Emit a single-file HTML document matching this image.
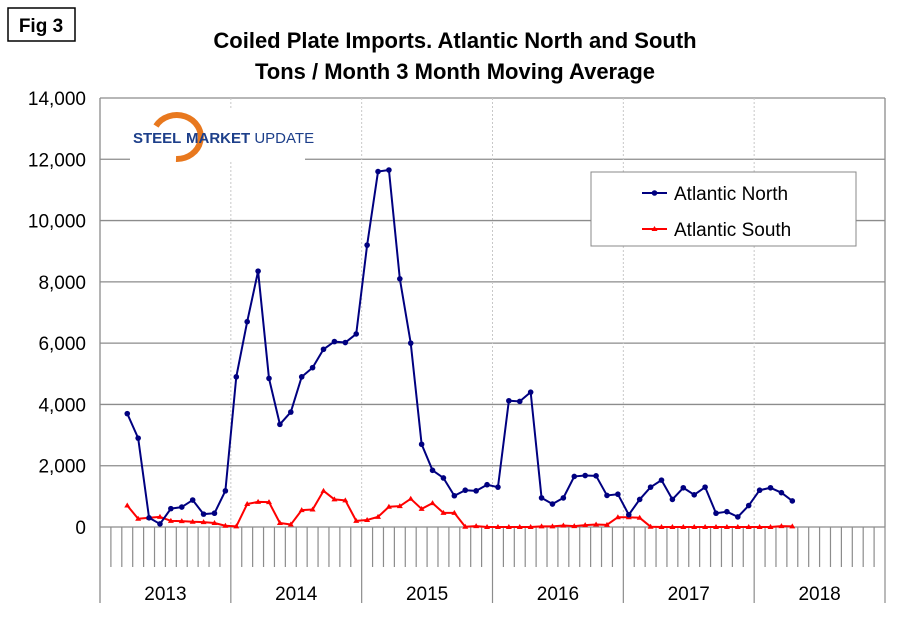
<!DOCTYPE html>
<html><head><meta charset="utf-8"><style>
body{margin:0;background:#fff;font-family:"Liberation Sans",Arial,sans-serif;}
#wrap{position:relative;width:897px;height:622px;overflow:hidden;}
</style></head><body>
<div id="wrap">
<svg id="chart" width="897" height="622" xmlns="http://www.w3.org/2000/svg">
<rect x="8" y="8" width="67" height="33" fill="#fff" stroke="#000" stroke-width="1.5"/>
<text x="41" y="32" text-anchor="middle" font-size="19" font-weight="bold">Fig 3</text>
<text x="455" y="48" text-anchor="middle" font-size="22" font-weight="bold">Coiled Plate Imports. Atlantic North and South</text>
<text x="455" y="79" text-anchor="middle" font-size="22" font-weight="bold">Tons / Month 3 Month Moving Average</text>
<g id="grid"></g>
<g id="yaxis"></g>
<g id="xaxis"></g>
<g>
<rect x="130" y="108" width="175" height="54" fill="#fff"/>
<path d="M156 126 A24 22 0 1 1 176 159" fill="none" stroke="#e8781e" stroke-width="6"/>
<text x="133" y="143" font-size="15" font-weight="bold" fill="#1d3f8a">STEEL</text>
<text x="186" y="143" font-size="15" fill="#1d3f8a"><tspan font-weight="bold">MARKET</tspan> UPDATE</text>
</g>
<g id="series"></g>
<g>
<rect x="591" y="172" width="265" height="74" fill="#fff" stroke="#888" stroke-width="1"/>
<line x1="642" y1="193" x2="667" y2="193" stroke="#000080" stroke-width="2"/>
<circle cx="654.5" cy="193" r="2.8" fill="#000080"/>
<text x="674" y="200" font-size="19">Atlantic North</text>
<line x1="642" y1="229" x2="667" y2="229" stroke="#ff0000" stroke-width="2"/>
<path d="M654.5 226 L657.5 231 L651.5 231 Z" fill="#ff0000"/>
<text x="674" y="236" font-size="19">Atlantic South</text>
</g>
</svg>
</div>
<script>
const years = ["2013","2014","2015","2016","2017","2018"];
const yTicks = [0,2000,4000,6000,8000,10000,12000,14000];
const startMonth = 2; // March 2013 (0-based index from Jan 2013)
const northValues = [3700,2900,300,100,600,650,880,420,450,1180,
4900,6700,8350,4850,3350,3750,4900,5200,5800,6050,6020,6300,
9200,11600,11650,8100,6000,2700,1850,1600,1020,1200,1180,1380,
1300,4120,4100,4400,950,750,950,1650,1680,1670,1030,1070,
400,900,1300,1530,900,1280,1050,1300,450,500,330,700,
1200,1280,1120,850];
const southValues = [700,270,300,330,200,190,170,160,130,40,
20,750,820,810,130,80,550,570,1180,900,870,200,
230,330,660,680,920,590,780,460,460,10,30,0,
0,0,0,0,20,20,50,30,60,80,70,320,
320,300,10,0,0,0,0,0,0,0,0,0,
0,0,30,20];

const NS="http://www.w3.org/2000/svg";
const X0=100,X1=885,Y0=527,Y1=98,YMAX=14000;
const nMonths=years.length*12;
const mw=(X1-X0)/nMonths;
const xm=i=>X0+(i+0.5)*mw;
const ys=v=>Y0-(v/YMAX)*(Y0-Y1);
function mk(tag,attrs,parent){const e=document.createElementNS(NS,tag);for(const k in attrs)e.setAttribute(k,attrs[k]);parent.appendChild(e);return e;}
const grid=document.getElementById('grid'),ya=document.getElementById('yaxis'),xa=document.getElementById('xaxis'),se=document.getElementById('series');
yTicks.forEach(t=>{
  if(t>0){const l=mk('line',{x1:X0,x2:X1,y1:ys(t),y2:ys(t),stroke:'#8c8c8c','stroke-width':1.3},grid);
  
  }
  const tx=mk('text',{x:86,y:ys(t)+7,'text-anchor':'end','font-size':19},ya);tx.textContent=t.toLocaleString('en-US');
  
  
});
for(let y=1;y<years.length;y++){
  const l=mk('line',{x1:X0+y*12*mw,x2:X0+y*12*mw,y1:Y1,y2:Y0,stroke:'#c8c8c8','stroke-width':1,'stroke-dasharray':'2,2'},grid);
  
  
}
mk('line',{x1:X1,x2:X1,y1:Y1,y2:Y0,stroke:'#8c8c8c','stroke-width':1.3},grid);
mk('line',{x1:X0,x2:X0,y1:Y1,y2:603,stroke:'#8c8c8c','stroke-width':1.3},ya);
mk('line',{x1:X0,x2:X1,y1:Y0,y2:Y0,stroke:'#8c8c8c','stroke-width':1.3},xa);
for(let m=1;m<=nMonths;m++){
  const x=X0+m*mw;const yr=m%12===0;
  const l=mk('line',{x1:x,x2:x,y1:Y0,y2:yr?603:567,stroke:'#8c8c8c','stroke-width':1.2},xa);
  
  
}
years.forEach((y,i)=>{
  const t=mk('text',{x:X0+(i+0.5)*12*mw,y:600,'text-anchor':'middle','font-size':19},xa);t.textContent=y;
  
  
});
function draw(vals,color,name,marker){
  const pts=vals.map((v,i)=>[xm(startMonth+i),ys(v)]);
  const p=mk('polyline',{points:pts.map(p=>p.join(',')).join(' '),fill:'none',stroke:color,'stroke-width':2,'stroke-linejoin':'round'},se);
  
  
  pts.forEach(([x,y])=>{
    let m;
    if(marker==='dot')m=mk('circle',{cx:x,cy:y,r:2.8,fill:color},se);
    else m=mk('path',{d:`M${x} ${y-3}L${x+3} ${y+2}L${x-3} ${y+2}Z`,fill:color},se);
    
    
  });
}
draw(southValues,'#ff0000','atlantic-south','tri');
draw(northValues,'#000080','atlantic-north','dot');
</script>
</body></html>
